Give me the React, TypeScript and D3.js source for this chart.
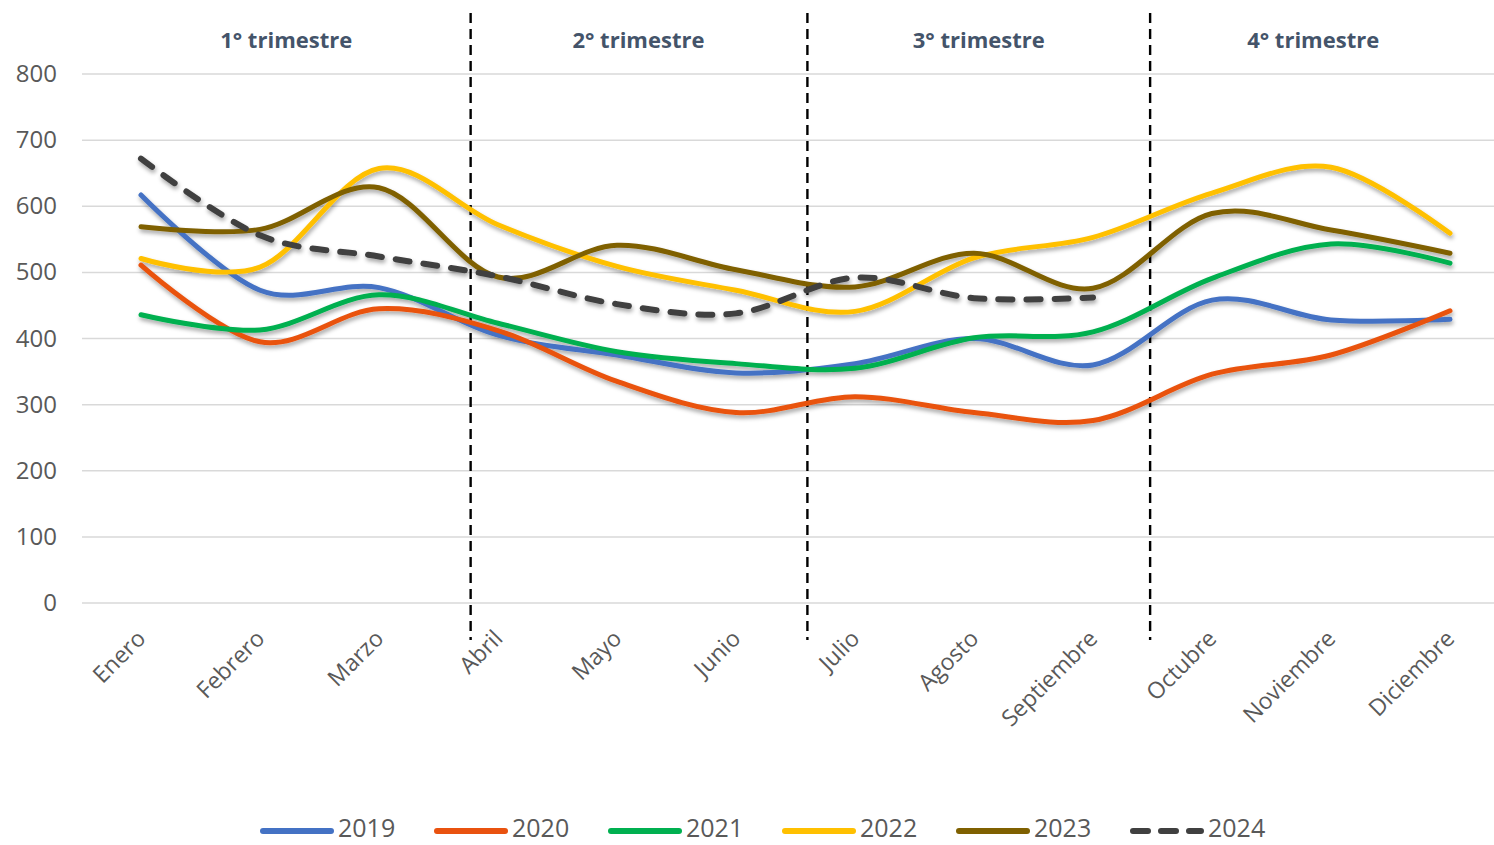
import React from "react";
import * as d3 from "d3";

const months = ["Enero","Febrero","Marzo","Abril","Mayo","Junio","Julio","Agosto","Septiembre","Octubre","Noviembre","Diciembre"];
const years = ["2019","2020","2021","2022","2023","2024"];
const v2019 = [617, 473, 477, 405, 375, 348, 362, 400, 360, 458, 428, 429];
const v2020 = [511, 395, 445, 412, 335, 288, 312, 288, 276, 346, 375, 442];
const v2021 = [436, 413, 466, 423, 380, 362, 355, 401, 410, 491, 543, 514];
const v2022 = [521, 508, 657, 572, 509, 473, 441, 522, 553, 620, 659, 559];
const v2023 = [569, 565, 628, 493, 541, 504, 478, 529, 476, 589, 564, 529];
const v2024 = [672, 556, 524, 494, 452, 438, 492, 461, 462];
const yTicks = [0, 100, 200, 300, 400, 500, 600, 700, 800];
const quarterLabels = ["1° trimestre", "2° trimestre", "3° trimestre", "4° trimestre"];
const quarterLabelPos = [1.22, 4.18, 7.04, 9.85];
const separatorPos = [2.77, 5.6, 8.48];

const seriesValues = [v2019, v2020, v2021, v2022, v2023, v2024];
const colors = ["#4472C4", "#E9520F", "#00B050", "#FFC000", "#7F6000", "#404040"];

export default function App() {
  const W = 1494, H = 845;
  const x = d3.scaleBand<string>().domain(months).range([81.5, 81.5 + 119 * 12]);
  const cx = (m: string) => (x(m) as number) + x.bandwidth() / 2;
  const xi = d3.scaleLinear().domain([0, 11]).range([cx(months[0]), cx(months[11])]);
  const y = d3.scaleLinear().domain([0, 800]).range([603, 74]);
  const line = d3.line<number>()
    .x((_, i) => cx(months[i]))
    .y((d) => y(d))
    .curve(d3.curveCatmullRom.alpha(0));
  const font = "'Open Sans', sans-serif";

  return (
    <svg width={W} height={H} style={{ position: "absolute", left: 0, top: 0, background: "#fff" }}>
      <defs>
        <filter id="sh" x="-10%" y="-20%" width="120%" height="150%">
          <feDropShadow dx="1" dy="3" stdDeviation="2" floodColor="#000" floodOpacity="0.35" />
        </filter>
      </defs>
      {yTicks.map((t) => (
        <g key={t}>
          <line x1={82} x2={W} y1={y(t)} y2={y(t)} stroke="#D9D9D9" strokeWidth={1.5} />
          <text x={57} y={y(t) + 8} textAnchor="end" fontFamily={font} fontSize={24} fill="#595959">{t}</text>
        </g>
      ))}
      {months.map((m) => (
        <text key={m} transform={`translate(${cx(m) + 6},${640}) rotate(-45)`} textAnchor="end"
          fontFamily={font} fontSize={23} fill="#595959">{m}</text>
      ))}
      {separatorPos.map((p, i) => (
        <line key={i} x1={xi(p)} x2={xi(p)} y1={13} y2={640} stroke="#000" strokeWidth={2.4} strokeDasharray="10,6" />
      ))}
      {quarterLabels.map((q, i) => (
        <text key={q} x={xi(quarterLabelPos[i])} y={48} textAnchor="middle" fontFamily={font}
          fontWeight="bold" fontSize={22} fill="#44546A">{q}</text>
      ))}
      <g filter="url(#sh)">
        {seriesValues.map((vals, i) => (
          <path key={years[i]} d={line(vals) || ""} fill="none" stroke={colors[i]}
            strokeWidth={i === 5 ? 6 : 5} strokeLinecap="round"
            strokeDasharray={i === 5 ? "14,14" : undefined} />
        ))}
      </g>
      {years.map((yr, i) => {
        const x0 = 263 + i * 174;
        return (
          <g key={yr}>
            <line x1={x0} x2={x0 + 68} y1={831} y2={831} stroke={colors[i]} strokeWidth={6}
              strokeLinecap="round" strokeDasharray={i === 5 ? "15,13" : undefined} />
            <text x={x0 + 75} y={837} fontFamily={font} fontSize={25} fill="#595959">{yr}</text>
          </g>
        );
      })}
    </svg>
  );
}
